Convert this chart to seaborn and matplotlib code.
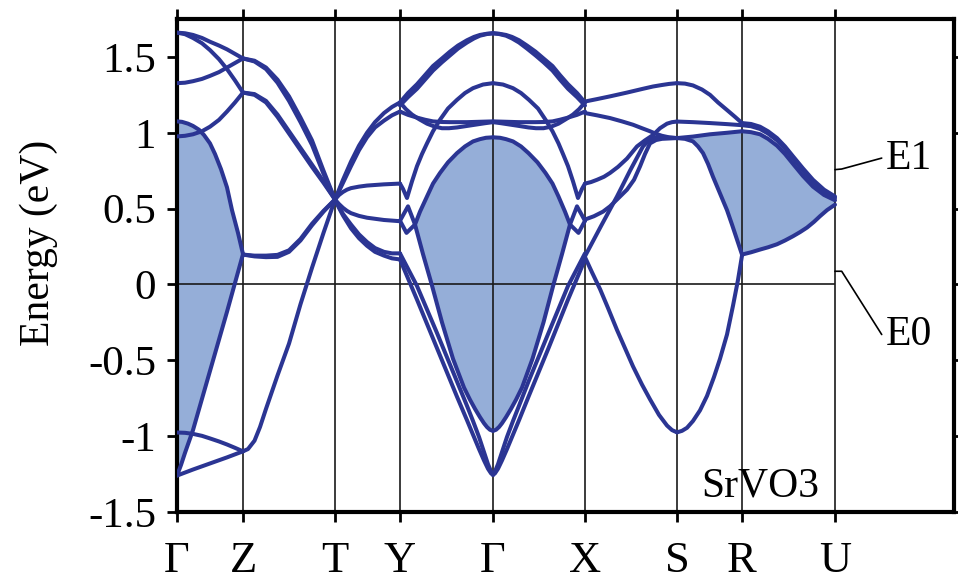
import numpy as np
import pandas as pd
import matplotlib
matplotlib.use("Agg")
import matplotlib.pyplot as plt
import seaborn as sns

# ---------------- k-path ----------------
kpt_labels = ["Γ", "Z", "T", "Y", "Γ", "X", "S", "R", "U"]
kpt_pos = [0, 66, 158, 223, 316, 408, 500, 565, 658]
k_end = 777

energy_ticks = [1.5, 1, 0.5, 0, -0.5, -1, -1.5]
energy_ticklabels = ["1.5", "1", "0.5", "0", "-0.5", "-1", "-1.5"]

# ---------------- bands: (k, E in eV) ----------------
# Γ - Z
gz_a1 = [(0, 1.66), (8, 1.656), (16, 1.645), (25, 1.625), (33, 1.60), (42, 1.575), (50, 1.55), (58, 1.52), (66, 1.49)]
gz_a2 = [(0, 1.66), (8, 1.65), (16, 1.625), (25, 1.59), (33, 1.545), (42, 1.485), (50, 1.42), (58, 1.345), (66, 1.265)]
gz_b = [(0, 1.327), (8, 1.33), (16, 1.34), (25, 1.355), (33, 1.375), (42, 1.40), (50, 1.43), (58, 1.46), (66, 1.49)]
gz_c = [(0, 0.976), (8, 0.98), (16, 0.99), (25, 1.01), (33, 1.04), (42, 1.085), (50, 1.14), (58, 1.20), (66, 1.265)]
gz_shade_hi = [(0, 1.075), (5, 1.072), (11, 1.06), (16, 1.045), (22, 1.02), (27, 0.985), (33, 0.93),
               (38, 0.86), (44, 0.76), (50, 0.64), (55, 0.49), (61, 0.34), (66, 0.20)]
gz_shade_lo = [(0, -1.26), (4, -1.19), (8, -1.11), (16, -0.96), (33, -0.57), (50, -0.18), (66, 0.20)]
gz_d1 = [(0, -1.26), (16, -1.22), (33, -1.18), (50, -1.14), (66, -1.10)]
gz_d2 = [(0, -0.976), (8, -0.978), (16, -0.985), (25, -0.998), (33, -1.015), (42, -1.035), (50, -1.055), (58, -1.077), (66, -1.10)]

# Z - T
zt_k = [66, 77.5, 89, 100.5, 112, 123.5, 135, 146.5, 158]
zt_a1 = [1.49, 1.475, 1.43, 1.35, 1.24, 1.10, 0.95, 0.75, 0.56]
zt_a2 = [1.49, 1.47, 1.42, 1.33, 1.21, 1.07, 0.92, 0.73, 0.56]
zt_b1 = [1.265, 1.255, 1.21, 1.12, 1.01, 0.90, 0.79, 0.68, 0.56]
zt_b2 = [1.265, 1.25, 1.20, 1.105, 0.995, 0.885, 0.775, 0.67, 0.56]
zt_c1 = [0.197, 0.185, 0.18, 0.182, 0.215, 0.29, 0.39, 0.48, 0.56]
zt_c2 = [0.197, 0.19, 0.19, 0.195, 0.225, 0.30, 0.40, 0.485, 0.56]
zt_d = [(66, -1.10), (71, -1.085), (77.5, -1.03), (83, -0.94), (89, -0.82), (100.5, -0.60), (112, -0.39),
        (123.5, -0.13), (135, 0.11), (146.5, 0.34), (158, 0.56)]

# T - Y
ty_a1 = [(158, 0.56), (162, 0.625), (166, 0.69), (174, 0.81), (182, 0.915), (190, 1.00), (198, 1.07), (207, 1.13), (215, 1.17), (223, 1.20)]
ty_a2 = [(158, 0.56), (162, 0.615), (166, 0.67), (174, 0.78), (182, 0.885), (190, 0.97), (198, 1.035), (207, 1.08), (215, 1.115), (223, 1.14)]
ty_b = [(158, 0.56), (162, 0.59), (166, 0.61), (170, 0.625), (174, 0.635), (182, 0.645), (190, 0.652), (207, 0.66), (223, 0.665)]
ty_c = [(158, 0.56), (162, 0.53), (166, 0.505), (170, 0.485), (174, 0.47), (182, 0.452), (190, 0.44), (207, 0.425), (223, 0.417)]
ty_d1 = [(158, 0.56), (162, 0.51), (166, 0.465), (174, 0.395), (182, 0.33), (190, 0.28), (198, 0.24), (207, 0.215), (215, 0.205), (223, 0.205)]
ty_d2 = [(158, 0.56), (162, 0.505), (166, 0.455), (174, 0.37), (182, 0.305), (190, 0.255), (198, 0.215), (207, 0.19), (215, 0.172), (223, 0.165)]

# Y - Γ
yg_a1 = [(223, 1.20), (231, 1.262), (240, 1.32), (248, 1.38), (256, 1.44), (265, 1.49), (273, 1.535), (281, 1.575),
         (290, 1.61), (297, 1.632), (303, 1.645), (310, 1.653), (316, 1.656)]
yg_a2 = [(223, 1.18), (231, 1.235), (240, 1.29), (248, 1.35), (256, 1.41), (265, 1.465), (273, 1.51), (281, 1.555),
         (290, 1.595), (297, 1.622), (303, 1.64), (310, 1.651), (316, 1.656)]
yg_b = [(223, 0.665), (226, 0.63), (230, 0.57), (235, 0.68), (240, 0.78), (245, 0.86), (250, 0.93), (256, 1.01),
        (263, 1.086), (271, 1.16), (280, 1.217), (288, 1.262), (296, 1.294), (306, 1.318), (316, 1.327)]
yg_c1 = [(223, 1.20), (229, 1.155), (235, 1.12), (242, 1.09), (250, 1.06), (258, 1.04), (265, 1.03), (272, 1.03),
         (280, 1.035), (290, 1.045), (300, 1.055), (308, 1.063), (316, 1.07)]
yg_c2 = [(223, 1.14), (231, 1.118), (240, 1.10), (248, 1.086), (256, 1.075), (265, 1.071), (273, 1.07), (290, 1.07), (316, 1.075)]
yg_shade_hi = [(223, 0.42), (229.5, 0.34), (238, 0.395), (243, 0.48), (250, 0.58), (256, 0.665), (263, 0.735),
               (271, 0.805), (280, 0.866), (288, 0.91), (296, 0.943), (303, 0.958), (309, 0.967), (316, 0.97)]
yg_shade_lo = [(223, 0.42), (231, 0.515), (238, 0.395), (246, 0.20), (254.7, 0.0), (265, -0.25),
               (276, -0.49), (287, -0.68), (293, -0.76), (298, -0.82), (303, -0.875), (307, -0.915),
               (310, -0.94), (313, -0.958), (316, -0.965)]
yg_o1 = [(223, 0.165), (240, -0.10), (260, -0.42), (280, -0.74), (290, -0.895), (296, -0.99), (302, -1.085),
         (307, -1.16), (311, -1.215), (314, -1.245), (316, -1.256)]
yg_o2 = [(223, 0.205), (240, -0.01), (260, -0.32), (280, -0.64), (290, -0.80), (296, -0.90), (302, -1.005),
         (307, -1.105), (311, -1.185), (314, -1.232), (316, -1.25)]

# Γ - X
gx_a1 = [(316, 1.656), (322, 1.653), (329, 1.645), (335, 1.632), (342, 1.61), (350, 1.575), (358.5, 1.535),
         (366.5, 1.49), (375.5, 1.44), (383, 1.38), (391, 1.32), (400, 1.262), (408, 1.20)]
gx_a2 = [(316, 1.656), (322, 1.651), (329, 1.64), (335, 1.622), (342, 1.595), (350, 1.555), (358.5, 1.51),
         (366.5, 1.465), (375.5, 1.41), (383, 1.35), (391, 1.29), (400, 1.235), (408, 1.18)]
gx_b = [(316, 1.327), (326, 1.318), (336, 1.294), (344, 1.262), (352, 1.217), (361, 1.16), (368.5, 1.086),
        (375.5, 1.01), (381.5, 0.93), (386, 0.86), (391, 0.78), (396, 0.68), (401, 0.57), (405, 0.63), (408, 0.665)]
gx_c1 = [(316, 1.07), (324, 1.063), (332, 1.055), (342, 1.045), (351.5, 1.035), (359, 1.03), (366.5, 1.03),
         (374, 1.04), (381.5, 1.06), (389, 1.09), (396, 1.12), (402, 1.155), (408, 1.20)]
gx_c2 = [(316, 1.075), (342, 1.07), (358.5, 1.07), (367, 1.071), (375.5, 1.075), (383, 1.086), (391, 1.10),
         (400, 1.118), (408, 1.14)]
gx_shade_hi = [(316, 0.97), (323, 0.967), (329, 0.958), (336, 0.943), (344, 0.91), (351.5, 0.866),
               (360.5, 0.805), (368.5, 0.735), (375.5, 0.665), (381.5, 0.58), (388, 0.48), (393, 0.395),
               (401.5, 0.34), (408, 0.42)]
gx_shade_lo = [(316, -0.965), (319, -0.958), (322, -0.94), (325, -0.915), (329, -0.875), (334, -0.82),
               (339, -0.76), (345, -0.68), (355.5, -0.49), (366.5, -0.25), (376.5, 0.0), (385, 0.20),
               (393, 0.395), (400, 0.515), (408, 0.42)]
gx_o1 = [(316, -1.256), (318, -1.245), (321, -1.215), (325, -1.16), (330, -1.085), (336, -0.99), (342, -0.895),
         (351.5, -0.74), (371.5, -0.42), (391, -0.10), (408, 0.165)]
gx_o2 = [(316, -1.25), (318, -1.232), (321, -1.185), (325, -1.105), (330, -1.005), (336, -0.90), (342, -0.80),
         (351.5, -0.64), (371.5, -0.32), (391, -0.01), (408, 0.205)]

# X - S
xs_a = [(408, 1.206), (420, 1.222), (433, 1.24), (450, 1.265), (466, 1.29), (476, 1.305), (485, 1.315),
        (492, 1.322), (500, 1.327)]
xs_b = [(408, 1.13), (420, 1.115), (433, 1.097), (445, 1.075), (456, 1.053), (465, 1.03), (473, 1.01),
        (479, 0.993), (485, 0.98), (492, 0.97), (500, 0.965)]
xs_c = [(408, 0.665), (414, 0.675), (420, 0.69), (427, 0.71), (433, 0.735), (441, 0.775), (450, 0.83),
        (455, 0.87), (460, 0.91), (468, 0.95), (476, 0.985), (483, 1.03), (490, 1.06), (495, 1.07), (500, 1.074)]
xs_d = [(408, 0.428), (417, 0.45), (426, 0.48), (433, 0.515), (440, 0.56), (450, 0.625), (457, 0.69),
        (463, 0.778), (468, 0.86), (473, 0.93), (479, 0.952), (485, 0.96), (500, 0.965)]
xs_e = [(408, 0.186), (424, 0.385), (440, 0.58), (453, 0.75), (466, 0.91), (472, 0.95), (478, 0.968),
        (490, 0.968), (500, 0.965)]
xs_v = [(408, 0.18), (415, 0.08), (423, -0.03), (431, -0.155), (440, -0.30), (448, -0.42), (456, -0.54),
        (465, -0.66), (473, -0.757), (482, -0.86), (490, -0.93), (495, -0.96), (500, -0.975)]

# S - R
sr_v = [(500, -0.975), (505, -0.965), (510, -0.945), (516, -0.9), (523, -0.83), (530, -0.735), (537, -0.61),
        (543, -0.49), (550, -0.33), (556, -0.14), (561, 0.03), (565, 0.19)]
sr_a = [(500, 1.327), (508, 1.324), (516, 1.312), (525, 1.285), (533, 1.25), (541, 1.20), (550, 1.15),
        (558, 1.105), (565, 1.064)]
sr_b = [(500, 1.074), (516, 1.07), (533, 1.064), (550, 1.057), (565, 1.05)]
sr_shade_hi = [(500, 0.965), (516, 0.975), (533, 0.99), (550, 1.0), (565, 1.01)]
sr_shade_lo = [(500, 0.965), (508, 0.96), (516, 0.943), (521, 0.91), (526, 0.866), (531, 0.795), (536, 0.71),
               (543, 0.60), (550, 0.49), (555, 0.395), (560, 0.296), (565, 0.197)]

# R - U
ru_a = [(565, 1.064), (574, 1.058), (583, 1.04), (591, 1.01), (600, 0.965), (608, 0.91), (616, 0.845),
        (626, 0.765), (636, 0.69), (647, 0.625), (658, 0.58)]
ru_b = [(565, 1.05), (574, 1.043), (583, 1.025), (591, 0.995), (600, 0.95), (608, 0.895), (616, 0.83),
        (626, 0.75), (636, 0.675), (647, 0.61), (658, 0.57)]
ru_shade_hi = [(565, 1.01), (574, 1.004), (583, 0.99), (591, 0.96), (600, 0.915), (608, 0.86), (616, 0.795),
               (626, 0.715), (636, 0.645), (647, 0.59), (658, 0.555)]
ru_shade_lo = [(565, 0.197), (574, 0.212), (583, 0.23), (591, 0.245), (600, 0.265), (608, 0.29), (616, 0.318),
               (623, 0.345), (630, 0.375), (637, 0.413), (643, 0.45), (650, 0.49), (658, 0.526)]

material_label = "SrVO3"
level_labels = ["E1", "E0"]

# ---------------- assemble long table for seaborn ----------------
zt_curves = [list(zip(zt_k, e)) for e in (zt_a1, zt_a2, zt_b1, zt_b2, zt_c1, zt_c2)]
all_curves = [
    gz_a1, gz_a2, gz_b, gz_c, gz_shade_hi, gz_shade_lo, gz_d1, gz_d2,
    *zt_curves, zt_d,
    ty_a1, ty_a2, ty_b, ty_c, ty_d1, ty_d2,
    yg_a1, yg_a2, yg_b, yg_c1, yg_c2, yg_shade_hi, yg_shade_lo, yg_o1, yg_o2,
    gx_a1, gx_a2, gx_b, gx_c1, gx_c2, gx_shade_hi, gx_shade_lo, gx_o1, gx_o2,
    xs_a, xs_b, xs_c, xs_d, xs_e, xs_v,
    sr_v, sr_a, sr_b, sr_shade_hi, sr_shade_lo,
    ru_a, ru_b, ru_shade_hi, ru_shade_lo,
]
rows = []
for i, curve in enumerate(all_curves):
    for k, e in curve:
        rows.append({"band": i, "k": k, "E": e})
bands = pd.DataFrame(rows)

# ---------------- styling ----------------
sns.set_theme(style="ticks")
plt.rcParams["font.family"] = ["Liberation Serif", "DejaVu Serif"]
plt.rcParams["axes.unicode_minus"] = False
for key in ("text.color", "axes.labelcolor", "xtick.color", "ytick.color", "axes.edgecolor"):
    plt.rcParams[key] = "black"

band_color = "#2b3593"
fill_color = "#95aed8"
tick_size = 31
kpt_size = 32
text_size = 30

fig = plt.figure(figsize=(9.58, 5.84), dpi=100)
ax = fig.add_axes([177 / 958, 72 / 584, 777 / 958, 493 / 584])


def fill_pocket(hi, lo, k0, k1):
    hk, he = zip(*sorted(hi))
    lk, le = zip(*sorted(lo))
    grid = np.linspace(k0, k1, 400)
    ax.fill_between(grid, np.interp(grid, lk, le), np.interp(grid, hk, he),
                    color=fill_color, lw=0, zorder=1)


fill_pocket(gz_shade_hi, gz_shade_lo, 0, 66)
fill_pocket(yg_shade_hi + gx_shade_hi, yg_shade_lo + gx_shade_lo, 238, 393)
fill_pocket(sr_shade_hi + ru_shade_hi, sr_shade_lo + ru_shade_lo, 500, 658)

# high-symmetry lines and the Fermi level
ax.vlines(kpt_pos[1:], -1.5, 1.75, color="#1a1a1a", lw=1.2, zorder=2)
ax.hlines(0, kpt_pos[0], kpt_pos[-1], color="#1a1a1a", lw=1.2, zorder=2)

sns.lineplot(data=bands, x="k", y="E", units="band", estimator=None, sort=False,
             color=band_color, lw=2.9, ax=ax, legend=False, zorder=3)

ax.set_xlim(0, k_end)
ax.set_ylim(-1.5, 1.75)
ax.set_xticks(kpt_pos)
ax.set_xticklabels(kpt_labels)
ax.set_yticks(energy_ticks)
ax.set_yticklabels(energy_ticklabels)
ax.set_xlabel("")
ax.set_ylabel("Energy (eV)", fontsize=text_size)
ax.yaxis.set_label_coords(-0.153, 0.545)

ax.tick_params(axis="both", which="both", direction="out", length=7, width=2,
               top=True, right=True, labelsize=tick_size)
ax.tick_params(axis="x", pad=14, labelsize=kpt_size)
ax.tick_params(axis="y", pad=8)
for s in ax.spines.values():
    s.set_visible(True)
    s.set_linewidth(3)

ax.text(524, -1.40, material_label, fontsize=text_size, ha="left", va="baseline", zorder=4)

# level markers on the right
ax.plot([658, 664.7, 704.7], [0.757, 0.761, 0.833], color="black", lw=1.2, clip_on=False)
ax.plot([658, 664.7, 704.7], [0.087, 0.087, -0.33], color="black", lw=1.2, clip_on=False)
ax.text(709, 0.83, level_labels[0], fontsize=text_size, ha="left", va="center")
ax.text(709, -0.33, level_labels[1], fontsize=text_size, ha="left", va="center")

fig.savefig("out.png", dpi=100)
